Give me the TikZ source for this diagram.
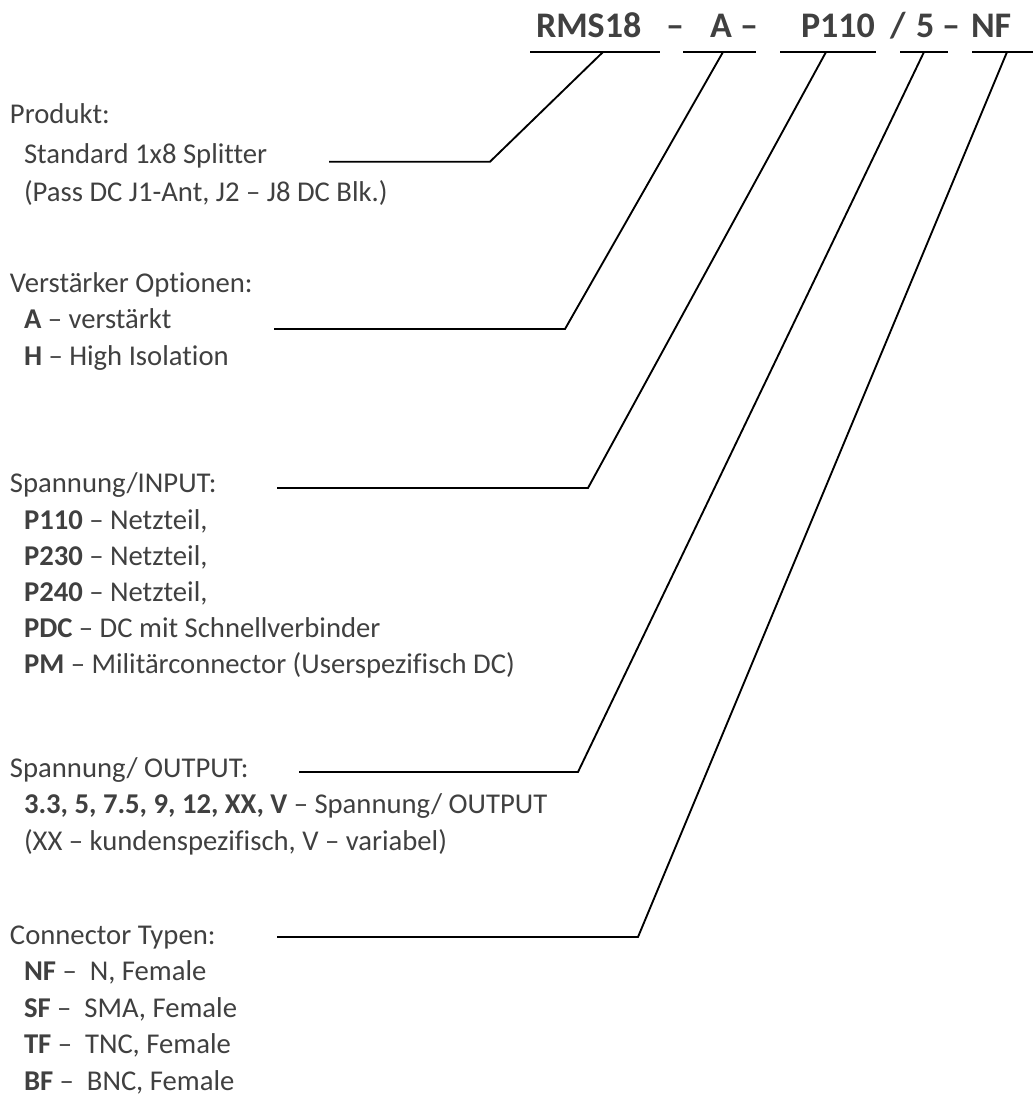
\documentclass[tikz,border=0pt]{standalone}
\usepackage{fontspec}
\setmainfont{Carlito}[Ligatures={NoCommon}]
\definecolor{c404040}{RGB}{64,64,64}

\begin{document}
\begin{tikzpicture}[y=-0.75pt, x=0.75pt, inner sep=0pt, outer sep=0pt,
  every node/.style={anchor=base west, text=c404040,
    font=\fontsize{21.5}{25}\selectfont},
  codefont/.style={font=\fontsize{27}{32}\selectfont\bfseries}]

  \useasboundingbox (0,0) rectangle (1033,1111);

  % order code
  \path (536,37) node[codefont] (text1001) {RMS18};
  \path (666,37) node[codefont] (text1002) {–};
  \path (710,37) node[codefont] (text1003) {A};
  \path (740,37) node[codefont] (text1004) {–};
  \path (801,37) node[codefont] (text1005) {P110};
  \path (890,37) node[codefont] (text1006) {/};
  \path (916,37) node[codefont] (text1007) {5};
  \path (942,37) node[codefont] (text1008) {–};
  \path (971,37) node[codefont] (text1009) {NF};

  \path[draw=black,line width=1.5pt] (530,52) -- (660,52);
  \path[draw=black,line width=1.5pt] (683,52) -- (756,52);
  \path[draw=black,line width=1.5pt] (780,52) -- (876,52);
  \path[draw=black,line width=1.5pt] (900,52) -- (948,52);
  \path[draw=black,line width=1.5pt] (972,52) -- (1033,52);

  % Produkt
  \path (10,123) node (text2001) {Produkt:};
  \path (24,163) node (text2002) {Standard 1x8 Splitter};
  \path (24,201) node (text2003) {(Pass DC J1-Ant, J2 – J8 DC Blk.)};

  % Verstaerker
  \path (10,292) node (text2004) {Verstärker Optionen:};
  \path (24,328) node (text2005) {\textbf{A} – verstärkt};
  \path (24,365) node (text2006) {\textbf{H} – High Isolation};

  % Spannung INPUT
  \path (10,492) node (text2007) {Spannung/INPUT:};
  \path (24,529) node (text2008) {\textbf{P110} – Netzteil,};
  \path (24,565) node (text2009) {\textbf{P230} – Netzteil,};
  \path (24,601) node (text2010) {\textbf{P240} – Netzteil,};
  \path (24,637) node (text2011) {\textbf{PDC} – DC mit Schnellverbinder};
  \path (24,673) node (text2012) {\textbf{PM} – Militärconnector (Userspezifisch DC)};

  % Spannung OUTPUT
  \path (10,777) node (text2013) {Spannung/ OUTPUT:};
  \path (24,813) node (text2014) {\textbf{3.3, 5, 7.5, 9, 12, XX, V} – Spannung/ OUTPUT};
  \path (24,850) node (text2015) {(XX – kundenspezifisch, V – variabel)};

  % Connector
  \path (10,944) node (text2016) {Connector Typen:};
  \path (24,980) node (text2017) {\textbf{NF} –\ \ N, Female};
  \path (24,1017) node (text2018) {\textbf{SF} –\ \ SMA, Female};
  \path (24,1053) node (text2019) {\textbf{TF} –\ \ TNC, Female};
  \path (24,1090) node (text2020) {\textbf{BF} –\ \ BNC, Female};

  % leader lines
  \coordinate (path3001) at (603,52);
  \coordinate (path3002) at (490,161.7);
  \coordinate (path3003) at (329,161.7);
  \coordinate (path3011) at (723,52);
  \coordinate (path3012) at (565,329);
  \coordinate (path3013) at (274,329);
  \coordinate (path3021) at (826,52);
  \coordinate (path3022) at (588,488);
  \coordinate (path3023) at (277,488);
  \coordinate (path3031) at (924,52);
  \coordinate (path3032) at (578,772);
  \coordinate (path3033) at (299,772);
  \coordinate (path3041) at (1007,52);
  \coordinate (path3042) at (638,937);
  \coordinate (path3043) at (277,937);

  \path[draw=black,line join=miter,line width=1.4pt] (path3001) -- (path3002) -- (path3003);
  \path[draw=black,line join=miter,line width=1.4pt] (path3011) -- (path3012) -- (path3013);
  \path[draw=black,line join=miter,line width=1.4pt] (path3021) -- (path3022) -- (path3023);
  \path[draw=black,line join=miter,line width=1.4pt] (path3031) -- (path3032) -- (path3033);
  \path[draw=black,line join=miter,line width=1.4pt] (path3041) -- (path3042) -- (path3043);

\end{tikzpicture}
\end{document}
